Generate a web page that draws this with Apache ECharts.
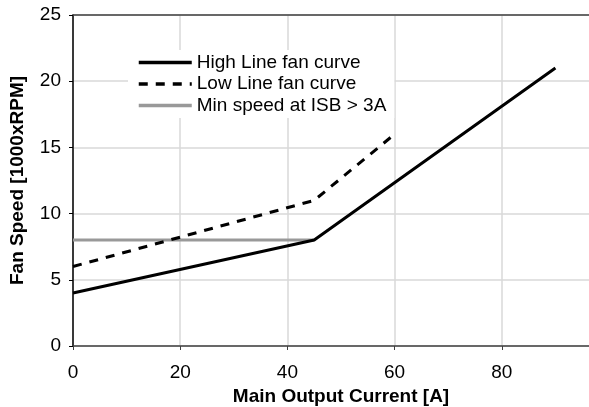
<!DOCTYPE html>
<html>
<head>
<meta charset="utf-8">
<script src="https://cdn.jsdelivr.net/npm/echarts@6/dist/echarts.min.js"></script>
<style>html,body{margin:0;padding:0;background:#fff}#c{width:589px;height:407px}</style>
</head>
<body>
<div id="c"></div>
<script>
const seriesNames = ['High Line fan curve', 'Low Line fan curve', 'Min speed at ISB > 3A'];
const highX = [0, 45, 90];
const highY = [4, 8, 21];
const lowX = [0, 45, 60];
const lowY = [6, 11, 16];
const minX = [0, 45];
const minY = [8, 8];
const xTicks = [0, 20, 40, 60, 80, 100];
const yTicks = [0, 5, 10, 15, 20, 25];

const pairs = (xs, ys) => xs.map((x, i) => [x, ys[i]]);
const FONT = '"Liberation Sans", Arial, sans-serif';
const FS = 19;

const chart = echarts.init(document.getElementById('c'), null, {renderer: 'canvas'});
chart.setOption({
  animation: false,
  backgroundColor: '#fff',
  textStyle: {fontFamily: FONT},
  grid: {left: 73, top: 15, width: 536, height: 331, containLabel: false, outerBoundsMode: 'none'},
  legend: {
    orient: 'vertical',
    left: 128, top: 50,
    padding: [3, 8, 3, 9],
    backgroundColor: '#fff',
    itemWidth: 53, itemHeight: 14, itemGap: 2.5,
    itemStyle: {opacity: 0},
    lineStyle: {width: 3.5},
    textStyle: {fontFamily: FONT, fontSize: FS, color: '#000'},
    data: seriesNames
  },
  xAxis: [{
    type: 'value', min: xTicks[0], max: xTicks[xTicks.length - 1], interval: 20,
    name: 'Main Output Current [A]', nameLocation: 'middle', nameGap: 40,
    nameTextStyle: {fontFamily: FONT, fontSize: FS, fontWeight: 'bold', color: '#000'},
    axisLine: {show: true, onZero: false, lineStyle: {color: '#404040', width: 1.5}},
    axisTick: {show: true, length: 4, lineStyle: {color: '#404040'}},
    axisLabel: {fontFamily: FONT, fontSize: FS, color: '#000', margin: 17},
    splitLine: {show: true, lineStyle: {color: '#d9d9d9', width: 1.5}}
  }, {
    type: 'value', position: 'top', min: xTicks[0], max: xTicks[xTicks.length - 1],
    axisLine: {show: true, onZero: false, lineStyle: {color: '#404040', width: 1.5}},
    axisTick: {show: false}, axisLabel: {show: false}, splitLine: {show: false}
  }],
  yAxis: {
    type: 'value', min: yTicks[0], max: yTicks[yTicks.length - 1], interval: 5,
    name: 'Fan Speed [1000xRPM]', nameLocation: 'middle', nameGap: 46,
    nameTextStyle: {fontFamily: FONT, fontSize: FS, fontWeight: 'bold', color: '#000'},
    axisLine: {show: true, onZero: false, lineStyle: {color: '#000', width: 1.5}},
    axisTick: {show: true, length: 4, lineStyle: {color: '#000'}},
    axisLabel: {fontFamily: FONT, fontSize: FS, color: '#000', margin: 12},
    splitLine: {show: true, lineStyle: {color: '#d9d9d9', width: 1.5}}
  },
  series: [{
    name: seriesNames[0], type: 'line', data: pairs(highX, highY), symbol: 'none', z: 4,
    lineStyle: {color: '#000', width: 3}, itemStyle: {color: '#000'}
  }, {
    name: seriesNames[1], type: 'line', data: pairs(lowX, lowY), symbol: 'none', z: 3,
    lineStyle: {color: '#000', width: 3, type: [9, 8]}, itemStyle: {color: '#000'}
  }, {
    name: seriesNames[2], type: 'line', data: pairs(minX, minY), symbol: 'none', z: 2,
    lineStyle: {color: '#999', width: 3}, itemStyle: {color: '#999'}
  }]
});
</script>
</body>
</html>
